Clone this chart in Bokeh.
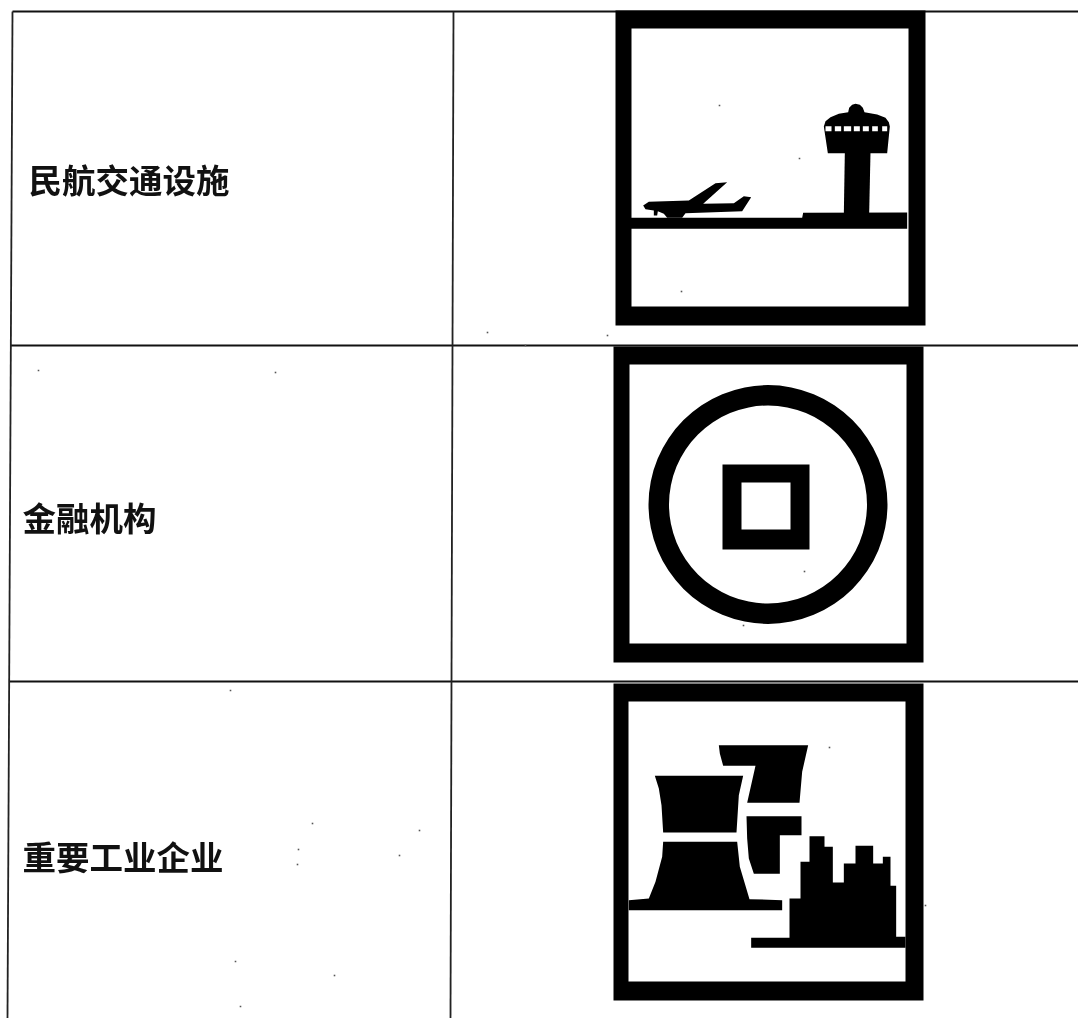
from bokeh.plotting import figure
from bokeh.embed import file_html
from bokeh.resources import INLINE
from bokeh.core.properties import value

labels = ["民航交通设施", "金融机构", "重要工业企业"]
label_x = [28, 22, 22]
label_y = [178, 516, 855]

row_lines_y = [11, 345, 681]
row_lines_x0 = [12, 10, 9]
col_lines_x = [(12, 7), (453, 450)]

frames_outer = [(615, 925, 10, 325), (613, 923, 346, 662), (613, 923, 683, 1000)]
frames_inner = [(631, 908, 28, 306), (629, 906, 364, 643), (628, 905, 701, 981)]

speck_x = [719, 799, 681, 607, 804, 743, 829, 925, 312, 419, 298, 297, 399, 235, 334, 240, 487, 525, 230, 275, 38]
speck_y = [105, 158, 291, 335, 571, 625, 747, 905, 823, 830, 849, 864, 855, 961, 975, 1006, 332, 345, 690, 372, 370]


def zoom(points, ox, oy):
    return [ox + a / 3 for a, _ in points], [oy + b / 3 for _, b in points]


plane = [(128, 615), (145, 604), (265, 600), (345, 548), (380, 545), (308, 610), (400, 608), (430, 587),
         (452, 590), (425, 632), (255, 638), (245, 652), (200, 652), (190, 640), (172, 632), (170, 645),
         (160, 645), (160, 630), (135, 626)]
ground_left = [(88, 652), (605, 652), (608, 637), (920, 636), (920, 685), (88, 685)]
tower_shaft = [(733, 455), (810, 455), (806, 640), (730, 640)]
tower_cab = [(670, 378), (675, 362), (690, 350), (715, 340), (743, 335), (746, 322), (755, 313), (765, 310),
             (778, 313), (787, 322), (792, 335), (830, 342), (855, 352), (865, 365), (868, 378), (860, 458),
             (682, 458)]
tower_windows_left = [675, 703, 730, 760, 787, 815, 845]
tower_windows_right = [693, 722, 752, 778, 805, 832, 860]

cool_a_top = [(163, 292), (428, 292), (415, 350), (408, 462), (188, 462), (183, 380), (175, 330)]
cool_a_bottom = [(188, 490), (410, 490), (418, 565), (447, 662), (545, 665), (545, 695), (85, 695), (85, 665),
                 (145, 660), (165, 610), (185, 535)]
cool_b_top = [(355, 200), (623, 200), (605, 280), (597, 373), (440, 373), (465, 262), (368, 262), (358, 225)]
cool_b_bottom = [(438, 413), (603, 413), (603, 470), (538, 470), (538, 586), (460, 586), (445, 540), (440, 480)]
factory = [(452, 778), (567, 778), (567, 660), (600, 660), (600, 550), (627, 550), (627, 473), (672, 473),
           (672, 505), (697, 505), (697, 612), (730, 612), (730, 555), (765, 555), (765, 502), (818, 502),
           (818, 555), (847, 555), (847, 535), (870, 535), (870, 622), (887, 622), (887, 775), (915, 775),
           (915, 808), (452, 808)]

p = figure(width=1078, height=1018, x_range=(0, 1078), y_range=(1018, 0),
           output_backend="svg", toolbar_location=None,
           x_axis_location=None, y_axis_location=None, min_border=0,
           styles={"position": "fixed", "left": "0", "top": "0"})
p.grid.visible = False
p.outline_line_color = None
p.background_fill_color = "white"
p.border_fill_color = "white"

# table rules
for y, x0 in zip(row_lines_y, row_lines_x0):
    p.line([x0, 1078], [y, y], line_color="#111111", line_width=1.8)
for xt, xb in col_lines_x:
    p.line([xt, xb], [11, 1018], line_color="#222222", line_width=1.8)

# icon frames
for (l, r, t, b), (il, ir, it, ib) in zip(frames_outer, frames_inner):
    p.quad(left=[l], right=[r], top=[t], bottom=[b], fill_color="black", line_color=None)
    p.quad(left=[il], right=[ir], top=[it], bottom=[ib], fill_color="white", line_color=None)

# icon 1: airport
for shape in (plane, ground_left, tower_shaft, tower_cab):
    xs, ys = zoom(shape, 600, 0)
    p.patch(xs, ys, fill_color="black", line_color=None)
p.quad(left=[600 + v / 3 for v in tower_windows_left], right=[600 + v / 3 for v in tower_windows_right],
       top=[377 / 3] * 7, bottom=[392 / 3] * 7, fill_color="white", line_color=None)

# icon 2: coin
p.annulus(x=[767.5], y=[504], inner_radius=99, outer_radius=119.5, fill_color="black", line_color=None)
p.quad(left=[722], right=[809], top=[464], bottom=[549], fill_color="black", line_color=None)
p.quad(left=[741], right=[790], top=[482], bottom=[529], fill_color="white", line_color=None)

# icon 3: industry
for shape in (cool_a_top, cool_a_bottom, cool_b_top, cool_b_bottom, factory):
    xs, ys = zoom(shape, 600, 678)
    p.patch(xs, ys, fill_color="black", line_color=None)

# scan specks
p.scatter(x=speck_x, y=speck_y, size=1.6, marker="square", fill_color="#555555", line_color=None)

# row labels
p.text(x=label_x, y=label_y, text=labels, text_font=value("Noto Sans CJK SC"), text_font_size="33.5px",
       text_font_style="bold", text_color="#111111", text_baseline="middle", text_align="left")

open("out.html", "w").write(file_html(p, INLINE))
